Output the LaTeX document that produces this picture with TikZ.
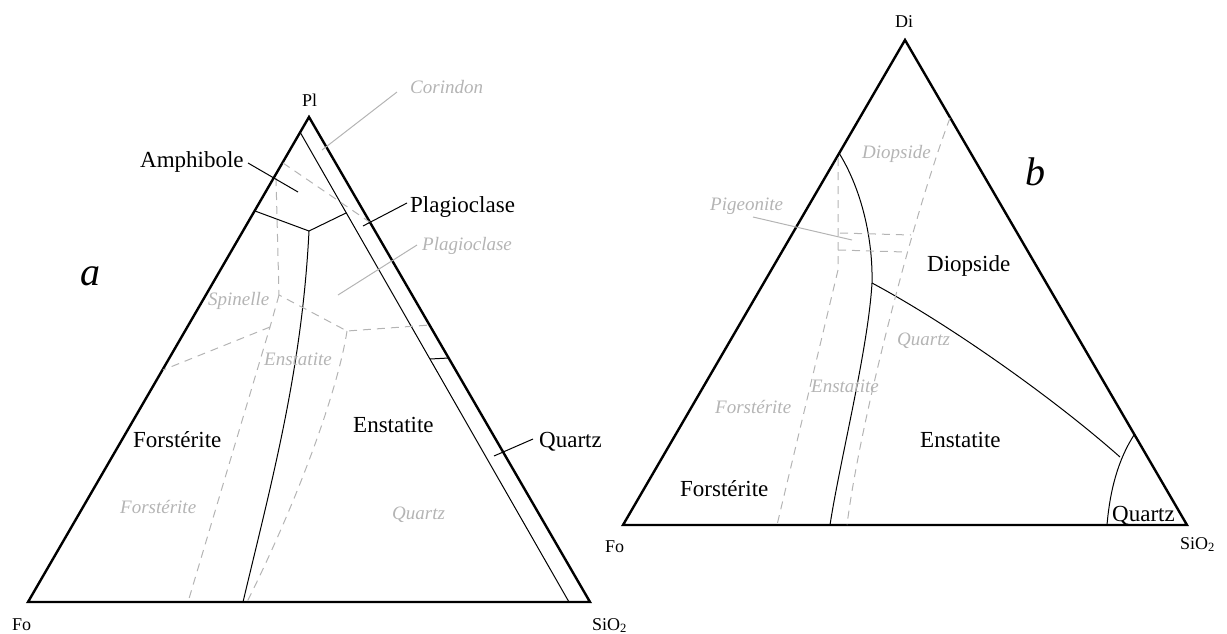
\documentclass[tikz,border=0pt]{standalone}
\usepackage{fontspec}
\setmainfont{Liberation Serif}
\definecolor{lg}{RGB}{180,180,180}
\begin{document}
\begin{tikzpicture}[x=1pt,y=-1pt,
 side/.style={line width=2.4pt, line join=miter},
 bnd/.style={line width=1pt},
 gbnd/.style={draw=lg, line width=1pt, dash pattern=on 8pt off 6pt},
 lead/.style={line width=1pt},
 glead/.style={draw=lg, line width=1pt},
 lbl/.style={inner sep=0pt, anchor=base west, font=\fontsize{23}{23}\selectfont},
 glbl/.style={inner sep=0pt, anchor=base west, text=lg, font=\fontsize{19}{19}\selectfont\itshape},
 vlbl/.style={inner sep=0pt, anchor=base west, font=\fontsize{18}{18}\selectfont},
 big/.style={inner sep=0pt, anchor=base west, font=\fontsize{40}{40}\selectfont\itshape}]
\useasboundingbox (0,0) rectangle (1227,633);

% ---------------- left triangle (a) ----------------
\coordinate (FoA) at (28,602);
\coordinate (SiA) at (590,602);
\coordinate (PlA) at (309,117);
\coordinate (inA1) at (300,132);
\coordinate (inA2) at (569,602);
\coordinate (jA) at (309,231);
\coordinate (jAl) at (255,211);
\coordinate (jAr) at (346,213);
\coordinate (cA) at (243,602);
\coordinate (tk1) at (430,359);
\coordinate (tk2) at (449,358);

\draw[side] (FoA) -- (SiA) -- (PlA) -- cycle;
\draw[bnd] (inA1) -- (inA2);
\draw[bnd] (jAl) -- (jA) -- (jAr);
\draw[bnd] (jA) .. controls (302,370) and (272,480) .. (cA);
\draw[bnd] (tk1) -- (tk2);

% dashed boundaries (a)
\coordinate (d1) at (283,163);
\coordinate (d2) at (371,223);
\coordinate (d3) at (276,178);
\coordinate (d4) at (279,295);
\coordinate (d5) at (347,331);
\coordinate (d6) at (430,325);
\coordinate (d7) at (270,327);
\coordinate (d8) at (188,602);
\coordinate (d9) at (163,370);
\coordinate (d10) at (247,602);
\draw[gbnd] (d1) -- (d2);
\draw[gbnd] (d3) -- (d4) -- (d5) -- (d6);
\draw[gbnd] (d4) -- (d7) -- (d8);
\draw[gbnd] (d7) -- (d9);
\draw[gbnd] (d5) .. controls (338,390) and (298,500) .. (d10);

% labels (a)
\node[vlbl] (lPl) at (302,106) {Pl};
\node[vlbl] (lFoA) at (12,630) {Fo};
\node[vlbl] (lSiA) at (592,630) {SiO\textsubscript{2}};
\node[big] (la) at (80,285) {a};
\node[lbl] (lAmph) at (140,167) {Amphibole};
\node[lbl] (lPlag) at (410,212) {Plagioclase};
\node[lbl] (lQzA) at (539,447) {Quartz};
\node[lbl] (lFoBlkA) at (133,447) {Forstérite};
\node[lbl] (lEnBlkA) at (353,432) {Enstatite};
\node[glbl] (gCor) at (410,93) {Corindon};
\node[glbl] (gPlag) at (422,250) {Plagioclase};
\node[glbl] (gSp) at (208,305) {Spinelle};
\node[glbl] (gEnA) at (264,365) {Enstatite};
\node[glbl] (gFoA) at (120,513) {Forstérite};
\node[glbl] (gQzA) at (392,519) {Quartz};

% leaders (a)
\coordinate (amE) at (298,192);
\coordinate (amS) at (248,163);
\coordinate (plS) at (407,203);
\coordinate (plE) at (363,226);
\coordinate (qzS) at (533,439);
\coordinate (qzE) at (494,456);
\coordinate (coS) at (397,92);
\coordinate (coE) at (322,150);
\coordinate (gpS) at (417,245);
\coordinate (gpE) at (338,295);
\draw[lead] (amS) -- (amE);
\draw[lead] (plS) -- (plE);
\draw[lead] (qzS) -- (qzE);
\draw[glead] (coS) -- (coE);
\draw[glead] (gpS) -- (gpE);

% ---------------- right triangle (b) ----------------
\coordinate (FoB) at (623,525);
\coordinate (SiB) at (1187,525);
\coordinate (DiB) at (905,40);
\coordinate (cB1) at (839,153);
\coordinate (jB) at (872,283);
\coordinate (cB2) at (830,525);
\coordinate (qB) at (1120,457);
\coordinate (qB1) at (1134,435);
\coordinate (qB2) at (1107,525);

\draw[side] (FoB) -- (SiB) -- (DiB) -- cycle;
\draw[bnd] (cB1) .. controls (862,190) and (873,240) .. (jB)
               .. controls (868,350) and (840,460) .. (cB2);
\draw[bnd] (jB) .. controls (945,322) and (1050,395) .. (qB);
\draw[bnd] (qB1) .. controls (1118,460) and (1110,490) .. (qB2);

% dashed boundaries (b)
\coordinate (e1) at (838,158);
\coordinate (e2) at (838,270);
\coordinate (e3) at (777,525);
\coordinate (e4) at (950,118);
\coordinate (e5) at (847,525);
\coordinate (p1) at (840,233);
\coordinate (p2) at (911,235);
\coordinate (p3) at (838,250);
\coordinate (p4) at (905,252);
\draw[gbnd] (e1) -- (e2) -- (e3);
\draw[gbnd] (e4) .. controls (915,210) and (860,420) .. (e5);
\draw[gbnd] (p1) -- (p2);
\draw[gbnd] (p3) -- (p4);

% labels (b)
\node[vlbl] (lDi) at (895,27) {Di};
\node[vlbl] (lFoB) at (605,552) {Fo};
\node[vlbl] (lSiB) at (1180,549) {SiO\textsubscript{2}};
\node[big] (lb) at (1025,185) {b};
\node[lbl] (lDiBlk) at (927,271) {Diopside};
\node[lbl] (lEnBlkB) at (920,447) {Enstatite};
\node[lbl] (lFoBlkB) at (680,496) {Forstérite};
\node[lbl] (lQzB) at (1112,521) {Quartz};
\node[glbl] (gDi) at (862,158) {Diopside};
\node[glbl] (gPig) at (710,210) {Pigeonite};
\node[glbl] (gQzB) at (897,345) {Quartz};
\node[glbl] (gEnB) at (811,392) {Enstatite};
\node[glbl] (gFoB) at (715,413) {Forstérite};

\coordinate (pgS) at (753,217);
\coordinate (pgE) at (852,240);
\draw[glead] (pgS) -- (pgE);
\end{tikzpicture}
\end{document}
